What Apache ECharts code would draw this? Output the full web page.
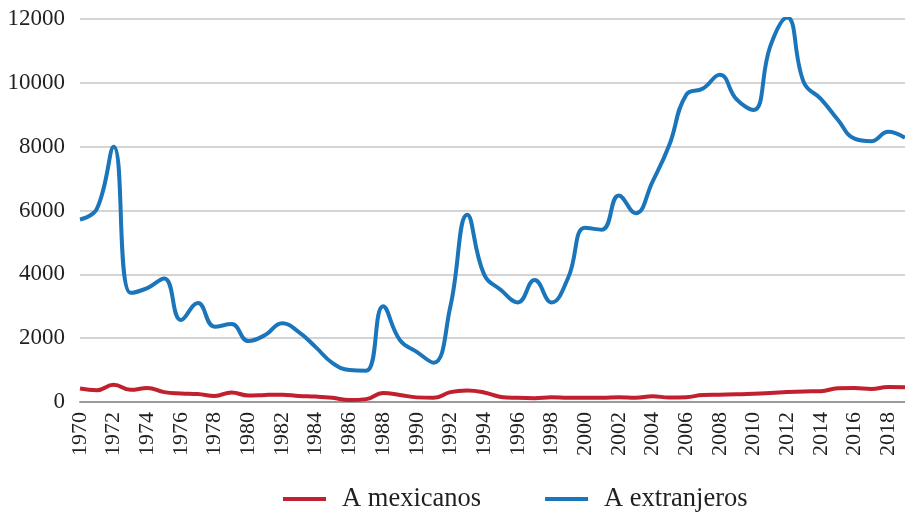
<!DOCTYPE html>
<html>
<head>
<meta charset="utf-8">
<script src="https://cdn.jsdelivr.net/npm/echarts@6/dist/echarts.min.js"></script>
<style>html,body{margin:0;padding:0;background:#fff}#c{width:905px;height:512px}</style>
</head>
<body>
<div id="c"></div>
<script>
const years = [];
for (let y = 1970; y <= 2019; y++) years.push(String(y));

const mexicanos = [420, 370, 540, 380, 440, 310, 270, 250, 190, 300, 200, 220, 230, 190, 170, 130, 60, 90, 280, 220, 145, 130, 310, 360, 300, 160, 130, 120, 150, 130, 130, 130, 150, 130, 180, 140, 150, 220, 230, 240, 260, 280, 310, 330, 340, 430, 440, 410, 470, 460];

const extranjeros = [5720, 6050, 8000, 3420, 3570, 3870, 2570, 3100, 2360, 2440, 1910, 2100, 2470, 2190, 1720, 1220, 1000, 980, 3000, 1940, 1570, 1230, 3000, 5870, 4000, 3510, 3120, 3820, 3120, 3900, 5460, 5400, 6470, 5910, 6900, 8050, 9620, 9820, 10250, 9480, 9150, 11150, 12050, 10000, 9500, 8850, 8250, 8170, 8470, 8280];

const yTicks = { min: 0, max: 12000, interval: 2000 };

const serif = '"Liberation Serif", "DejaVu Serif", serif';
const chart = echarts.init(document.getElementById('c'));
chart.setOption({
  animation: false,
  grid: { left: 80, right: -4, top: 19, bottom: 110, containLabel: false },
  legend: {
    data: ['A mexicanos', 'A extranjeros'],
    left: 283, top: 485, padding: 0,
    icon: 'rect', itemWidth: 43, itemHeight: 4, itemGap: 64,
    textStyle: { fontFamily: serif, fontSize: 26.5, lineHeight: 28, color: '#231f20', padding: [0, 0, 0, 11] }
  },
  xAxis: {
    type: 'category', data: years, boundaryGap: false,
    axisLine: { lineStyle: { color: '#9a9a9a', width: 2 } },
    axisTick: { show: false },
    axisLabel: { interval: 1, rotate: 90, margin: 10, fontFamily: serif, fontSize: 22, color: '#231f20' },
    splitLine: { show: false }
  },
  yAxis: {
    type: 'value', min: yTicks.min, max: yTicks.max, interval: yTicks.interval,
    axisLine: { show: false }, axisTick: { show: false },
    axisLabel: { margin: 15, fontFamily: serif, fontSize: 23, color: '#231f20', formatter: v => String(v) },
    splitLine: { lineStyle: { color: '#c6c6c6', width: 1.5 } }
  },
  series: [
    { name: 'A mexicanos', type: 'line', data: mexicanos, smooth: 0.45, showSymbol: false,
      lineStyle: { color: '#c1202f', width: 4 }, itemStyle: { color: '#c1202f' } },
    { name: 'A extranjeros', type: 'line', data: extranjeros, smooth: 0.45, showSymbol: false,
      lineStyle: { color: '#1a75bb', width: 4 }, itemStyle: { color: '#1a75bb' } }
  ]
});
</script>
</body>
</html>
